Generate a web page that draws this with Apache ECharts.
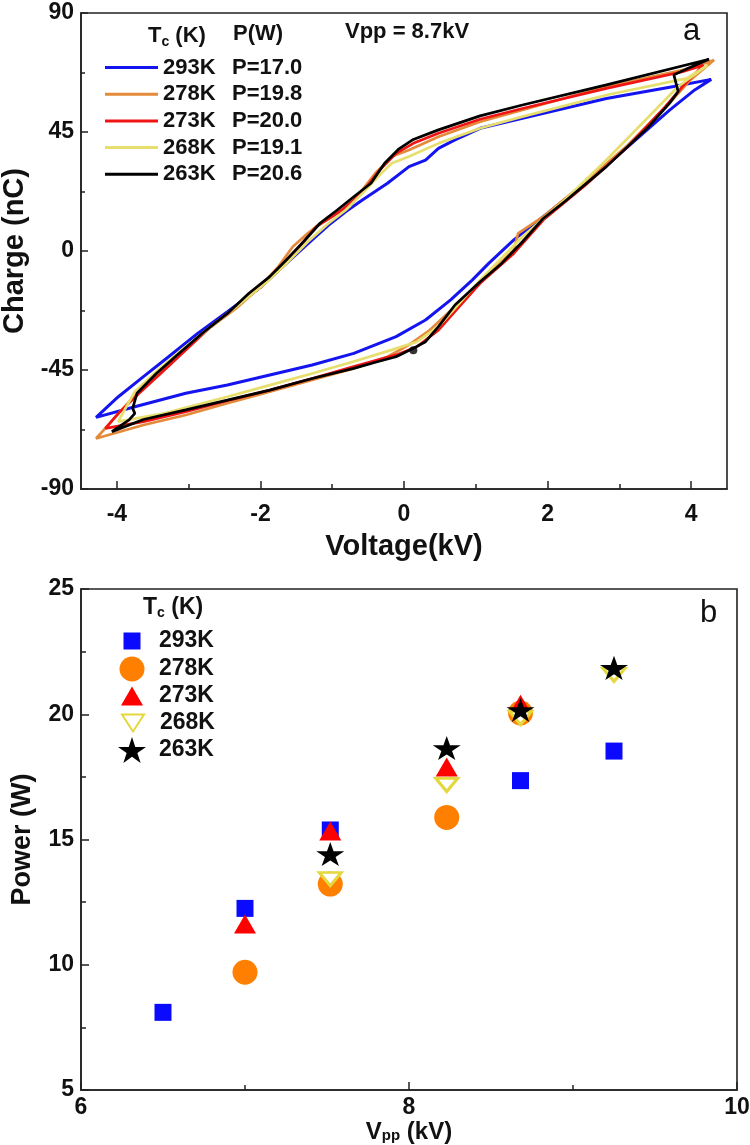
<!DOCTYPE html>
<html><head><meta charset="utf-8">
<script src="https://cdn.jsdelivr.net/npm/echarts@6/dist/echarts.min.js"></script>
<style>html,body{margin:0;padding:0;background:#fff}#c{width:750px;height:1145px}</style>
</head><body><div id="c"></div>
<script>
const FONT = 'Liberation Sans, Arial, Helvetica, sans-serif';

// ---------- Panel a : Q-V loops at Vpp = 8.7 kV ----------
const loopNames  = ['293K', '278K', '273K', '268K', '263K'];
const loopPower  = ['17.0', '19.8', '20.0', '19.1', '20.6'];
const loopColors = ['#1414f0', '#e48a3a', '#f01414', '#e6df6e', '#000000'];

const loop293 = [[0.30,-26.1],[0.65,-18.5],[0.95,-11.0],[1.18,-4.7],[1.53,4.2],[1.94,13.0],[2.53,25.6],[3.12,39.5],[3.70,53.3],[4.05,60.9],[4.28,64.9],[3.76,62.2],[2.82,57.7],[1.65,50.2],[1.06,46.4],[0.71,42.0],[0.48,38.8],[0.30,34.4],[0.07,31.9],[-0.23,25.6],[-0.58,19.3],[-0.81,14.9],[-1.05,9.8],[-1.28,4.2],[-1.64,-4.7],[-1.99,-13.5],[-2.46,-23.0],[-2.87,-31.1],[-3.28,-40.0],[-3.63,-47.5],[-3.98,-55.1],[-4.29,-62.9],[-3.75,-58.9],[-3.04,-53.8],[-2.46,-50.7],[-1.87,-46.9],[-1.28,-43.1],[-0.70,-38.7],[-0.11,-32.4],[0.30,-26.1]];
const loop278 = [[0.07,-35.5],[0.36,-29.9],[0.71,-21.0],[1.06,-12.2],[1.40,-3.0],[1.53,0.4],[1.59,6.7],[1.94,13.0],[2.53,26.2],[3.12,40.1],[3.70,55.9],[3.99,64.7],[4.32,72.2],[3.99,69.1],[2.82,62.2],[1.65,53.3],[1.06,48.9],[0.48,43.2],[0.07,38.2],[-0.17,35.7],[-0.40,29.4],[-0.58,23.1],[-0.76,16.8],[-1.05,13.0],[-1.34,6.7],[-1.55,1.6],[-1.75,-5.9],[-2.05,-14.7],[-2.34,-21.7],[-2.75,-29.9],[-3.10,-38.7],[-3.45,-46.9],[-3.81,-56.4],[-4.10,-65.2],[-4.29,-70.9],[-3.63,-65.8],[-3.04,-62.0],[-2.46,-57.6],[-1.87,-53.2],[-1.28,-48.8],[-0.70,-44.4],[-0.23,-40.0],[0.07,-35.5]];
const loop273 = [[0.18,-36.2],[0.48,-29.9],[0.77,-21.0],[1.06,-12.2],[1.53,-0.9],[1.94,11.7],[2.53,25.0],[3.12,39.5],[3.64,54.6],[3.88,62.2],[4.17,70.3],[3.88,67.8],[2.82,61.5],[1.65,53.9],[1.06,49.8],[0.48,44.5],[0.13,40.7],[-0.11,36.9],[-0.34,30.6],[-0.52,24.3],[-0.70,19.3],[-0.93,14.2],[-1.22,9.2],[-1.46,1.6],[-1.69,-5.9],[-1.99,-13.5],[-2.34,-21.0],[-2.69,-28.6],[-3.04,-37.4],[-3.39,-46.3],[-3.69,-53.8],[-3.98,-61.4],[-4.16,-67.1],[-3.63,-64.5],[-3.04,-60.8],[-2.46,-56.6],[-1.87,-52.6],[-1.28,-48.2],[-0.70,-43.7],[-0.11,-39.3],[0.18,-36.2]];
const loop268 = [[0.18,-34.3],[0.48,-28.6],[0.77,-19.8],[1.06,-11.0],[1.65,5.4],[2.24,19.3],[2.82,34.4],[3.41,50.8],[3.82,62.2],[4.23,70.3],[3.94,65.3],[2.82,59.0],[1.65,50.8],[1.06,46.4],[0.48,40.7],[0.07,35.7],[-0.17,33.2],[-0.34,28.7],[-0.58,21.8],[-0.81,15.5],[-1.05,10.5],[-1.34,3.5],[-1.64,-4.7],[-1.93,-12.2],[-2.28,-19.8],[-2.69,-28.6],[-3.10,-37.4],[-3.45,-45.6],[-3.75,-53.2],[-3.92,-61.4],[-3.98,-64.5],[-3.34,-61.4],[-2.46,-55.1],[-1.87,-50.7],[-1.28,-46.3],[-0.70,-41.8],[-0.17,-37.4],[0.18,-34.3]];
const loop263 = [[0.13,-36.8],[0.30,-34.3],[0.48,-28.6],[0.71,-20.4],[1.06,-11.6],[1.36,-4.7],[1.65,3.5],[1.94,12.3],[2.24,18.7],[2.82,31.9],[3.41,47.0],[3.70,55.9],[3.82,60.3],[3.76,66.6],[3.95,69.0],[4.25,72.5],[2.82,62.8],[1.65,55.2],[1.06,51.1],[0.48,45.8],[0.13,42.2],[-0.08,38.4],[-0.27,33.2],[-0.46,25.6],[-0.70,20.5],[-0.93,15.5],[-1.17,10.5],[-1.40,3.5],[-1.64,-3.4],[-1.87,-9.7],[-2.16,-16.0],[-2.46,-23.6],[-2.81,-31.1],[-3.16,-39.3],[-3.45,-46.3],[-3.72,-53.8],[-3.78,-59.5],[-3.75,-61.4],[-3.83,-63.9],[-4.07,-68.3],[-3.63,-63.7],[-3.04,-60.1],[-2.46,-56.4],[-1.87,-52.6],[-1.28,-48.2],[-0.70,-44.4],[-0.36,-41.8],[-0.11,-40.0],[0.13,-36.8]];
const startDot = [[0.13,-37.5]];
const loops = [loop293, loop278, loop273, loop268, loop263];

const voltMajor = [-4, -2, 0, 2, 4];
const voltMinor = [-3, -1, 1, 3];

// ---------- Panel b : power vs Vpp ----------
const tcNames = ['293K', '278K', '273K', '268K', '263K'];
const vpp293 = [6.5, 7.0, 7.52, 8.68, 9.25];
const pow293 = [8.1, 12.25, 15.38, 17.35, 18.53];
const vpp278 = [7.0, 7.52, 8.23, 8.68];
const pow278 = [9.7, 13.22, 15.88, 20.05];
const vpp273 = [7.0, 7.52, 8.23, 8.68];
const pow273 = [11.63, 15.34, 17.89, 20.4];
const vpp268 = [7.52, 8.23, 8.68, 9.25];
const pow268 = [13.42, 17.18, 19.85, 21.57];
const vpp263 = [7.52, 8.23, 8.68, 9.25];
const pow263 = [14.42, 18.65, 20.17, 21.85];

const STAR = 'path://M50,0 L61.8,35.4 L100,35.4 L69.1,57.3 L80.9,92.7 L50,70.8 L19.1,92.7 L30.9,57.3 L0,35.4 L38.2,35.4 Z';
const DOWN_TRI = 'path://M0,0 L22,0 L11,17 Z';
const pair = (xs, ys) => xs.map((v, i) => [v, ys[i]]);

const tickFont = {fontFamily: FONT, fontWeight: 'bold', fontSize: 23, color: '#111'};
const nameFont = {fontFamily: FONT, fontWeight: 'bold', fontSize: 29, color: '#111'};
const axisLineStyle = {color: '#222', width: 1.6};

const chart = echarts.init(document.getElementById('c'), null, {renderer: 'canvas'});

const lineSeries = loops.map((d, i) => ({
  name: loopNames[i], type: 'line', xAxisIndex: 0, yAxisIndex: 0,
  data: d, showSymbol: false, smooth: false, z: 2 + i,
  lineStyle: {color: loopColors[i], width: i === 0 ? 3 : 2.7},
  itemStyle: {color: loopColors[i]}
}));

const symCfg = [
  {symbol: 'rect', size: [17, 17], color: '#0a0aff'},
  {symbol: 'circle', size: 25, color: '#ff8000'},
  {symbol: 'triangle', size: [22, 19], color: '#ff0000'},
  {symbol: DOWN_TRI, size: [22, 17], color: '#ffffff', border: '#e4d83e'},
  {symbol: STAR, size: [28, 26], color: '#000000'}
];
const scatterData = [pair(vpp293, pow293), pair(vpp278, pow278), pair(vpp273, pow273), pair(vpp268, pow268), pair(vpp263, pow263)];
const scatterNames = tcNames.map(n => 'b-' + n);
const scatterSeries = scatterData.map((d, i) => ({
  name: scatterNames[i], type: 'scatter', xAxisIndex: 2, yAxisIndex: 1, data: d,
  symbol: symCfg[i].symbol, symbolSize: symCfg[i].size,
  symbolKeepAspect: true, z: 10 + i,
  itemStyle: symCfg[i].border ? {color: symCfg[i].color, borderColor: symCfg[i].border, borderWidth: 3, opacity: 1}
                              : {color: symCfg[i].color, opacity: 1}
}));

const legendRowsB = [641, 669, 696, 723, 750];
const legendW = [17, 25, 22, 22, 28];
const legendH = [17, 25, 19, 17, 26];
const legendsB = scatterNames.map((n, i) => ({
  data: [{name: n, icon: symCfg[i].symbol}], orient: 'vertical', padding: 0, selectedMode: false,
  left: 132 - legendW[i] / 2, top: legendRowsB[i] - 13,
  itemWidth: legendW[i], itemHeight: legendH[i],
  formatter: s => s.slice(2),
  textStyle: {fontFamily: FONT, fontWeight: 'bold', fontSize: 23, color: '#111', lineHeight: 26,
              padding: [0, 0, 0, 159 - (132 + legendW[i] / 2 + 5)]}
}));

const richTop = {
  a: {width: 69, fontFamily: FONT, fontWeight: 'bold', fontSize: 22, color: '#111'},
  b: {fontFamily: FONT, fontWeight: 'bold', fontSize: 22, color: '#111'}
};

const option = {
  animation: false,
  backgroundColor: '#ffffff',
  grid: [
    {left: 81, top: 13, width: 646, height: 476, show: true, borderColor: '#222', borderWidth: 1.6,
     backgroundColor: 'transparent', containLabel: false, outerBoundsMode: 'none'},
    {left: 81, top: 589, width: 656, height: 501, show: true, borderColor: '#222', borderWidth: 1.6,
     backgroundColor: 'transparent', containLabel: false, outerBoundsMode: 'none'}
  ],
  xAxis: [
    {type: 'value', gridIndex: 0, min: -4.5, max: 4.5, position: 'bottom',
     axisLine: {show: true, onZero: false, lineStyle: axisLineStyle},
     axisTick: {show: true, inside: true, length: 8, customValues: voltMajor, lineStyle: {color: '#222', width: 1.5}},
     axisLabel: {show: true, customValues: voltMajor, margin: 14, ...tickFont},
     splitLine: {show: false},
     name: 'Voltage(kV)', nameLocation: 'middle', nameGap: 43, nameTextStyle: nameFont},
    {type: 'value', gridIndex: 0, min: -4.5, max: 4.5, position: 'bottom',
     axisLine: {show: false, onZero: false},
     axisTick: {show: true, inside: true, length: 5, customValues: voltMinor, lineStyle: {color: '#222', width: 1.5}},
     axisLabel: {show: false}, splitLine: {show: false}},
    {type: 'value', gridIndex: 1, min: 6, max: 10, interval: 2, position: 'bottom',
     axisLine: {show: true, onZero: false, lineStyle: axisLineStyle},
     axisTick: {show: true, inside: true, length: 8, lineStyle: {color: '#222', width: 1.5}},
     minorTick: {show: true, splitNumber: 2, length: 5, lineStyle: {color: '#222', width: 1.5}},
     axisLabel: {margin: 6, ...tickFont}, splitLine: {show: false}, minorSplitLine: {show: false},
     name: '{m|V}{s|pp}{m| (kV)}', nameLocation: 'middle', nameGap: 24,
     nameTextStyle: {...nameFont, fontSize: 24, rich: {
       m: {fontFamily: FONT, fontWeight: 'bold', fontSize: 24, color: '#111'},
       s: {fontFamily: FONT, fontWeight: 'bold', fontSize: 15, color: '#111', padding: [8, 0, 0, 0]}}}}
  ],
  yAxis: [
    {type: 'value', gridIndex: 0, min: -90, max: 90, interval: 45,
     axisLine: {show: true, onZero: false, lineStyle: axisLineStyle},
     axisTick: {show: true, inside: true, length: 7, lineStyle: {color: '#222', width: 1.5}},
     minorTick: {show: true, splitNumber: 2, length: 4, lineStyle: {color: '#222', width: 1.5}},
     axisLabel: {margin: 7, ...tickFont}, splitLine: {show: false}, minorSplitLine: {show: false},
     name: 'Charge (nC)', nameLocation: 'middle', nameGap: 44, nameTextStyle: nameFont},
    {type: 'value', gridIndex: 1, min: 5, max: 25, interval: 5,
     axisLine: {show: true, onZero: false, lineStyle: axisLineStyle},
     axisTick: {show: true, inside: true, length: 8, lineStyle: {color: '#222', width: 1.5}},
     minorTick: {show: true, splitNumber: 2, length: 5, lineStyle: {color: '#222', width: 1.5}},
     axisLabel: {margin: 7, ...tickFont}, splitLine: {show: false}, minorSplitLine: {show: false},
     name: 'Power (W)', nameLocation: 'middle', nameGap: 45, nameTextStyle: {...nameFont, fontSize: 27}}
  ],
  legend: [
    {data: loopNames, orient: 'vertical', left: 105, top: 56, padding: 0, selectedMode: false,
     icon: 'rect', itemWidth: 53, itemHeight: 3, itemGap: 3.7,
     formatter: n => '{a|' + n + '}{b|P=' + loopPower[loopNames.indexOf(n)] + '}',
     textStyle: {fontFamily: FONT, fontWeight: 'bold', fontSize: 22, lineHeight: 23, color: '#111', rich: richTop}},
    ...legendsB
  ],
  graphic: [
    {type: 'text', left: 148, top: 25, z: 100, style: {text: '{m|T}{s|c}{m| (K)}', rich: {
      m: {fontFamily: FONT, fontWeight: 'bold', fontSize: 22, fill: '#111'},
      s: {fontFamily: FONT, fontWeight: 'bold', fontSize: 14, fill: '#111', padding: [12, 0, 0, 0]}}}},
    {type: 'text', left: 233, top: 23, z: 100, style: {text: 'P(W)', font: 'bold 22px ' + FONT, fill: '#111'}},
    {type: 'text', left: 345, top: 21, z: 100, style: {text: 'Vpp = 8.7kV', font: 'bold 22px ' + FONT, fill: '#111'}},
    {type: 'text', left: 683, top: 16, z: 100, style: {text: 'a', font: '31px ' + FONT, fill: '#111'}},
    {type: 'text', left: 143, top: 596, z: 100, style: {text: '{m|T}{s|c}{m| (K)}', rich: {
      m: {fontFamily: FONT, fontWeight: 'bold', fontSize: 23, fill: '#111'},
      s: {fontFamily: FONT, fontWeight: 'bold', fontSize: 14, fill: '#111', padding: [12, 0, 0, 0]}}}},
    {type: 'text', left: 700, top: 598, z: 100, style: {text: 'b', font: '31px ' + FONT, fill: '#111'}}
  ],
  series: [
    ...lineSeries,
    {name: 'start', type: 'scatter', xAxisIndex: 0, yAxisIndex: 0, data: startDot, symbolSize: 8, z: 9,
     itemStyle: {color: '#000'}},
    ...scatterSeries
  ]
};
chart.setOption(option);
</script></body></html>
